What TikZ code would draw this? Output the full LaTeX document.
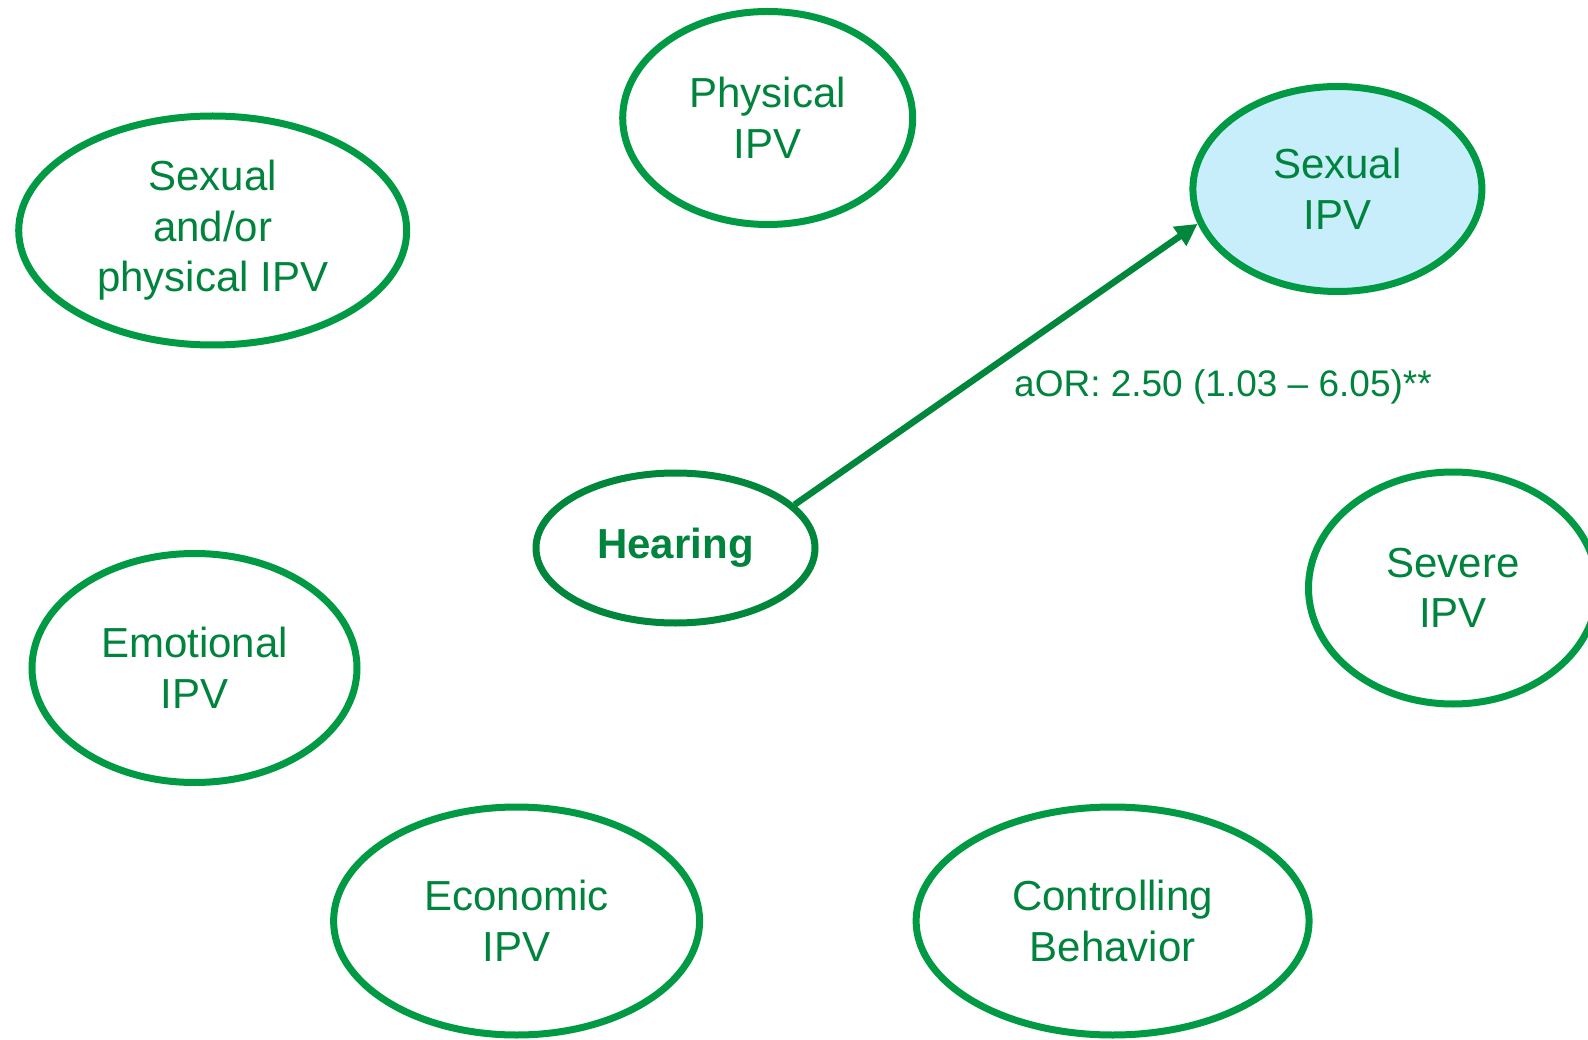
\documentclass[tikz,border=0pt]{standalone}
\usepackage{fontspec}
\setmainfont{Liberation Sans}
\usetikzlibrary{shapes.geometric,arrows.meta}
\definecolor{ringgreen}{HTML}{009A44}
\definecolor{txtgreen}{HTML}{00843D}
\definecolor{darkgreen}{HTML}{00873C}
\definecolor{paleblue}{HTML}{C8EEFC}
\begin{document}
\begin{tikzpicture}[x=1pt,y=-1pt,
  oval/.style={ellipse, draw=ringgreen, line width=7pt, fill=white,
    text=txtgreen, align=center, inner sep=0pt,
    font=\fontsize{42}{50.6}\selectfont},
  keyoval/.style={oval, draw=darkgreen, font=\fontsize{42}{50.6}\selectfont\bfseries},
  outcome/.style={oval, fill=paleblue},
  effect/.style={draw=darkgreen, line width=6.5pt, -{Triangle[length=22pt,width=22pt]}},
  estimate/.style={text=txtgreen, inner sep=0pt, font=\fontsize{37}{44}\selectfont}]
\clip (0,0) rectangle (1588,1040);
\fill[white] (0,0) rectangle (1588,1040);

% outcome measures
\node[oval, minimum width=290pt, minimum height=213pt] (phys) at (767.7,118) {Physical\\IPV};
\node[oval, minimum width=388pt, minimum height=229pt] (sexphys) at (212.7,230.5) {Sexual\\and/or\\physical IPV};
\node[outcome, minimum width=289pt, minimum height=205pt] (sexipv) at (1337.4,189) {Sexual\\IPV};
\node[oval, minimum width=289pt, minimum height=232pt] (severe) at (1453,588) {Severe\\IPV};
\node[oval, minimum width=325pt, minimum height=229pt] (emot) at (194.5,668) {Emotional\\IPV};
\node[oval, minimum width=366pt, minimum height=228pt] (econ) at (516.6,921) {Economic\\IPV};
\node[oval, minimum width=393pt, minimum height=228pt] (ctrl) at (1112.6,921) {Controlling\\Behavior};

% exposure
\node[keyoval, minimum width=279pt, minimum height=150pt] (hear) at (675.5,548) {Hearing};

% significant association
\draw[effect] (hear.20) -- (sexipv.194);
\node[estimate, anchor=base west] (aor) at (1014,397) {aOR: 2.50 (1.03 – 6.05)**};
\end{tikzpicture}
\end{document}
